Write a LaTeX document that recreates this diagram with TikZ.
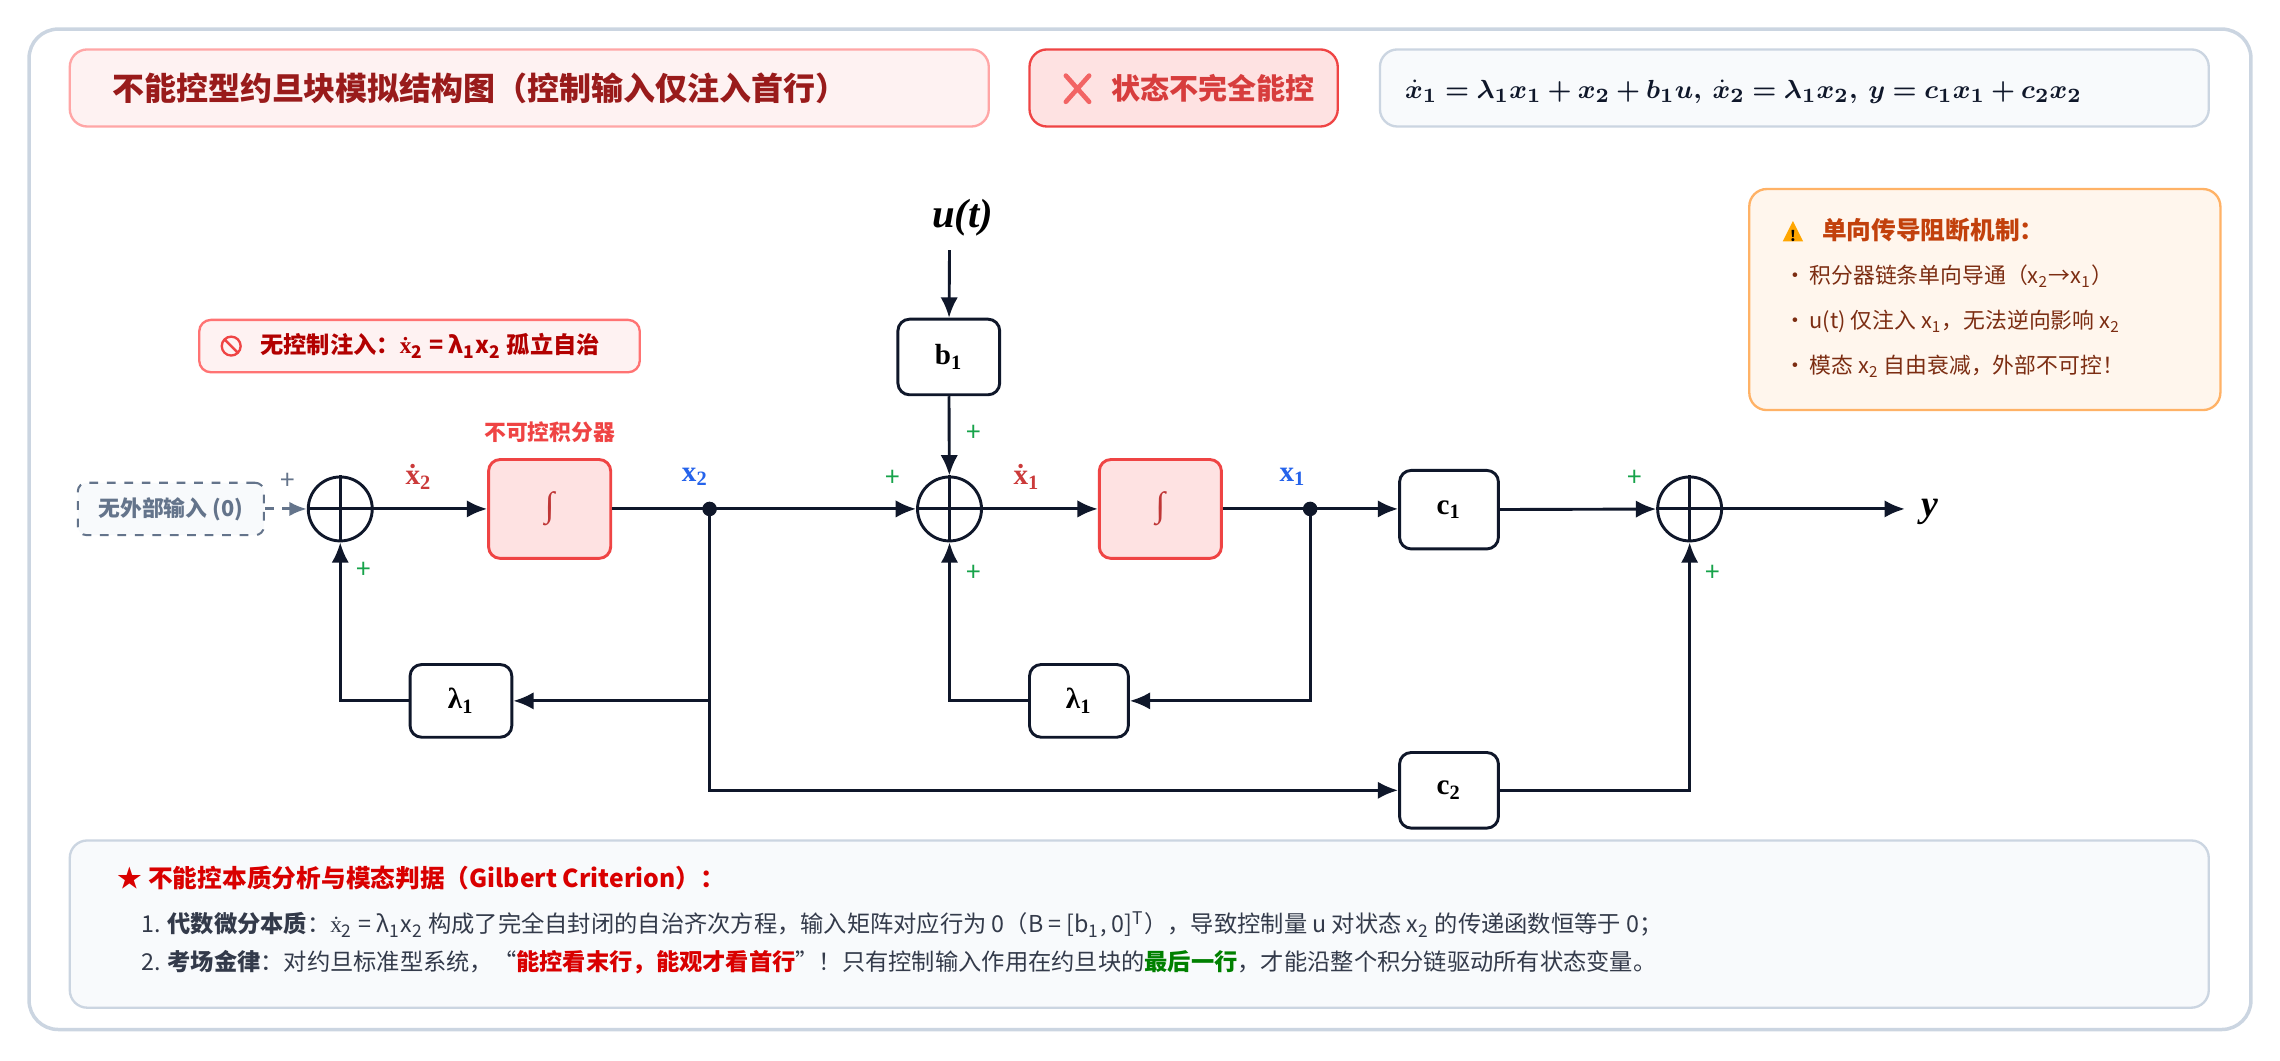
\documentclass[tikz,border=0pt]{standalone}
\usepackage{fontspec}
\usepackage{bm}
\setmainfont{Noto Sans CJK SC}
\newfontfamily\serif{Liberation Serif}
\newcommand{\xd}{{\serif ẋ}}
\usetikzlibrary{arrows.meta}
\definecolor{ink}{HTML}{0F172A}
\definecolor{frame}{HTML}{CBD5E1}
\definecolor{dred}{HTML}{991B1B}
\definecolor{rred}{HTML}{EF4444}
\definecolor{pink}{HTML}{FEE2E2}
\definecolor{lpink}{HTML}{FEF2F2}
\definecolor{slate}{HTML}{F8FAFC}
\definecolor{blu}{HTML}{2563EB}
\definecolor{grn}{HTML}{16A34A}
\definecolor{org}{HTML}{C2410C}
\definecolor{brn}{HTML}{7C2D12}
\definecolor{gry}{HTML}{64748B}
\begin{document}
\begin{tikzpicture}[x=0.5pt,y=-0.5pt,
  blk/.style={draw=ink,line width=1pt,rounded corners=4pt,fill=white,inner sep=0pt},
  integ/.style={draw=rred,line width=1pt,rounded corners=4pt,fill=pink,minimum width=42pt,minimum height=34pt},
  sum/.style={draw=ink,line width=1pt,circle,minimum size=22pt,inner sep=0pt},
  ar/.style={ink,line width=1pt,-{Latex[length=7pt,width=6pt]}},
  ln/.style={ink,line width=1pt},
  pl/.style={grn,font=\fontsize{9}{9}\selectfont},
  sig/.style={font=\serif\bfseries\fontsize{10}{10}\selectfont},
  panel/.style={rounded corners=6pt,line width=0.8pt}]
\useasboundingbox (0,0) rectangle (1568,729);
\draw[frame,line width=1.2pt,rounded corners=10pt,fill=white] (20,20) rectangle (1548,708);
% header
\draw[panel,draw=red!35,fill=lpink] (48,34) rectangle (680,87);
\node[anchor=west,text=dred,font=\bfseries\fontsize{11}{11}\selectfont] (title) at (70,61) {不能控型约旦块模拟结构图（控制输入仅注入首行）};
\draw[panel,draw=rred,fill=pink] (708,34) rectangle (920,87);
\draw[rred!80!pink,line width=1.6pt,line cap=round] (733,52)--(749,70) (749,52)--(733,70);
\node[anchor=west,text=rred!90!black,font=\bfseries\fontsize{10}{10}\selectfont] (badge) at (757,61) {状态不完全能控};
\draw[panel,draw=frame,fill=slate] (949,34) rectangle (1519,87);
\node[anchor=west,text=ink,font=\fontsize{9.5}{9.5}\selectfont,inner sep=1pt] (eq) at (964,63) {$\bm{\dot x_1=\lambda_1x_1+x_2+b_1u,\ \dot x_2=\lambda_1x_2,\ y=c_1x_1+c_2x_2}$};
% orange box
\draw[panel,draw=orange!60,fill=orange!7] (1203,130) rectangle (1527,282);
\fill[orange!70!yellow] (1226,166)--(1240,166)--(1233,152)--cycle;
\node[font=\bfseries\fontsize{5}{5}\selectfont] at (1233,162) {!};
\node[anchor=west,text=org,font=\bfseries\fontsize{8.5}{8.5}\selectfont] (otitle) at (1246,158) {单向传导阻断机制：};
\begin{scope}[every node/.style={anchor=west,text=brn,font=\fontsize{7.5}{7.5}\selectfont}]
\node (b1t) at (1220,190) {•\,积分器链条单向导通（x\textsubscript{2}→x\textsubscript{1}）};
\node (b2t) at (1220,221) {•\,u(t) 仅注入 x\textsubscript{1}，无法逆向影响 x\textsubscript{2}};
\node (b3t) at (1220,252) {•\,模态 x\textsubscript{2} 自由衰减，外部不可控！};
\end{scope}
% red note
\draw[panel,draw=red!55,fill=lpink,rounded corners=4pt] (137,220) rectangle (440,256);
\draw[rred,line width=0.8pt] (159,238) circle (6.5) (154.5,233.5)--(163.5,242.5);
\node[anchor=west,text=red!70!black,font=\bfseries\fontsize{8}{8}\selectfont] (note) at (172,238) {无控制注入：\xd\textsubscript{2} = λ\textsubscript{1}x\textsubscript{2} 孤立自治};
% blocks
\node[draw=gry,dashed,line width=0.7pt,rounded corners=3pt,fill=slate,minimum width=64pt,minimum height=18pt,text=gry,font=\bfseries\fontsize{7.5}{7.5}\selectfont] (zero) at (117.5,350) {无外部输入 (0)};
\node[sum] (s1) at (234,350) {};
\node[sum] (s2) at (653,350) {};
\node[sum] (s3) at (1162,350) {};
\foreach \s in {s1,s2,s3}{\draw[ln] (\s.north)--(\s.south) (\s.west)--(\s.east);}
\node[integ] (i1) at (378,350) {\serif\fontsize{12}{12}\selectfont\textcolor{rred!80!black}{∫}};
\node[integ] (i2) at (798,350) {\serif\fontsize{12}{12}\selectfont\textcolor{rred!80!black}{∫}};
\node[text=rred,font=\bfseries\fontsize{7.5}{7.5}\selectfont] (ilab) at (378,297) {不可控积分器};
\node[blk,minimum width=35pt,minimum height=26pt,sig] (b1) at (652.5,245.5) {b\textsubscript{1}};
\node[blk,minimum width=34pt,minimum height=27pt,sig] (c1) at (996.5,350.5) {c\textsubscript{1}};
\node[blk,minimum width=34pt,minimum height=26pt,sig] (c2) at (996.5,543.5) {c\textsubscript{2}};
\node[blk,minimum width=35pt,minimum height=25pt,sig] (l1) at (317,482) {λ\textsubscript{1}};
\node[blk,minimum width=34pt,minimum height=25pt,sig] (l2) at (742,482) {λ\textsubscript{1}};
\node[font=\serif\bfseries\itshape\fontsize{14}{14}\selectfont] (u) at (662,150) {u(t)};
\coordinate (utop) at (653,172);
\node[font=\serif\bfseries\itshape\fontsize{13}{13}\selectfont] (y) at (1327,352) {y};
\coordinate (yend) at (1310,350);
\fill[ink] (488,350) circle (5) coordinate (d1);
\fill[ink] (901,350) circle (5) coordinate (d2);
% signal labels
\node[sig,text=rred!85!black] at (288,328) {ẋ\textsubscript{2}};
\node[sig,text=blu] at (478,328) {x\textsubscript{2}};
\node[sig,text=rred!85!black] at (706,328) {ẋ\textsubscript{1}};
\node[sig,text=blu] at (889,328) {x\textsubscript{1}};
% plus signs
\node[pl,text=gry] at (198,331) {+};
\node[pl] at (250,392) {+};
\node[pl] at (614,329) {+};
\node[pl] at (670,298) {+};
\node[pl] at (670,394) {+};
\node[pl] at (1124,329) {+};
\node[pl] at (1178,394) {+};
% connectors
\draw[gry,line width=1pt,dashed,-{Latex[length=6pt,width=5pt]}] (zero) -- (s1);
\draw[ar] (s1) -- (i1);
\draw[ln] (i1) -- (d1);
\draw[ar] (d1) -- (s2);
\draw[ar] (utop) -- (b1);
\draw[ar] (b1) -- (s2);
\draw[ar] (s2) -- (i2);
\draw[ln] (i2) -- (d2);
\draw[ar] (d2) -- (d2 -| c1.west);
\draw[ar] (c1) -- (s3);
\draw[ar] (s3) -- (yend);
\draw[ar] (d1) |- (l1);
\draw[ar] (l1) -| (s1);
\draw[ar] (d2) |- (l2);
\draw[ar] (l2) -| (s2);
\draw[ar] (d1) |- (c2);
\draw[ar] (c2) -| (s3);
% bottom panel
\draw[panel,draw=frame,fill=slate] (48,578) rectangle (1519,693);
\node[anchor=west,text=red!85!black,font=\bfseries\fontsize{8.5}{8.5}\selectfont] (bt) at (74,604) {★ 不能控本质分析与模态判据（Gilbert Criterion）：};
\begin{scope}[every node/.style={anchor=west,text=ink!85,font=\fontsize{8}{8}\selectfont}]
\node (l1t) at (90,636) {1. \textbf{代数微分本质}：\xd\textsubscript{2} = λ\textsubscript{1}x\textsubscript{2} 构成了完全自封闭的自治齐次方程，输入矩阵对应行为 0（B = [b\textsubscript{1}, 0]\textsuperscript{T}），导致控制量 u 对状态 x\textsubscript{2} 的传递函数恒等于 0；};
\node (l2t) at (90,662) {2. \textbf{考场金律}：对约旦标准型系统，“\textcolor{red!85!black}{\textbf{能控看末行，能观才看首行}}”！只有控制输入作用在约旦块的\textcolor{green!50!black}{\textbf{最后一行}}，才能沿整个积分链驱动所有状态变量。};
\end{scope}
\end{tikzpicture}
\end{document}
